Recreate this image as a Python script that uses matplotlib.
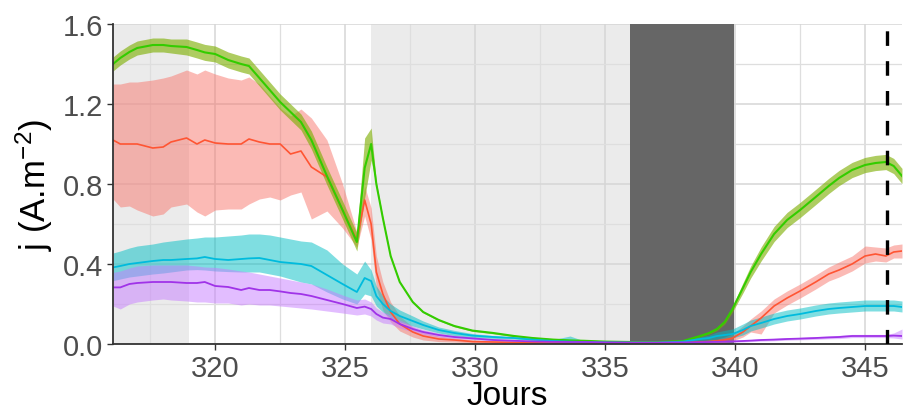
import matplotlib
matplotlib.use("Agg")
import matplotlib.pyplot as plt
import numpy as np

plt.rcParams['font.family'] = ['Liberation Sans', 'DejaVu Sans']
plt.rcParams['mathtext.default'] = 'regular'
plt.rcParams['lines.scale_dashes'] = False

days = [316.07, 316.35, 316.7, 317.0, 317.6, 318.0, 318.3, 318.9, 319.3, 319.6,
        320.0, 320.5, 321.0, 321.3, 321.7, 322.1, 322.5, 322.9, 323.3, 323.7,
        324.3, 324.9, 325.45, 325.75, 326.0, 326.2, 326.45, 326.75, 327.1, 327.6,
        328.0, 328.6, 329.2, 329.9, 330.7, 331.5, 332.2, 333.0, 333.65, 334.2,
        335.0, 336.0, 337.0, 338.0, 338.65, 339.0, 339.3, 339.6, 339.9, 340.3,
        340.6, 341.0, 341.5, 342.0, 342.5, 343.1, 343.6, 344.0, 344.5, 345.0,
        345.4, 345.8, 346.1, 346.42]

green_mean = [1.40, 1.43, 1.46, 1.48, 1.495, 1.495, 1.49, 1.485, 1.47, 1.458,
              1.45, 1.42, 1.40, 1.39, 1.33, 1.27, 1.21, 1.16, 1.11, 1.02,
              0.84, 0.67, 0.51, 0.88, 1.00, 0.80, 0.63, 0.44, 0.31, 0.21,
              0.16, 0.12, 0.09, 0.067, 0.055, 0.04, 0.03, 0.022, 0.018, 0.016,
              0.012, 0.01, 0.01, 0.015, 0.04, 0.055, 0.075, 0.11, 0.175, 0.28,
              0.36, 0.45, 0.55, 0.62, 0.67, 0.735, 0.79, 0.83, 0.87, 0.895,
              0.905, 0.91, 0.89, 0.84]
green_err = [0.035, 0.035, 0.035, 0.035, 0.035, 0.035, 0.035, 0.04, 0.04, 0.04,
             0.04, 0.04, 0.04, 0.04, 0.04, 0.04, 0.04, 0.04, 0.04, 0.045,
             0.045, 0.045, 0.045, 0.15, 0.08, 0.01, 0.005, 0.004, 0.004, 0.004,
             0.004, 0.004, 0.004, 0.004, 0.004, 0.004, 0.004, 0.004, 0.004, 0.004,
             0.004, 0.004, 0.004, 0.004, 0.005, 0.006, 0.008, 0.01, 0.015, 0.025,
             0.03, 0.035, 0.038, 0.038, 0.038, 0.038, 0.038, 0.038, 0.038, 0.038,
             0.038, 0.038, 0.038, 0.038]

red_mean = [1.02, 1.00, 1.00, 1.00, 0.98, 0.985, 1.01, 1.03, 1.00, 1.02,
            1.005, 1.00, 1.00, 1.025, 1.01, 1.00, 1.00, 0.95, 0.965, 0.885,
            0.835, 0.67, 0.52, 0.72, 0.60, 0.36, 0.25, 0.16, 0.10, 0.06,
            0.04, 0.025, 0.02, 0.012, 0.01, 0.008, 0.006, 0.005, 0.005, 0.005,
            0.005, 0.005, 0.005, 0.006, 0.01, 0.012, 0.015, 0.02, 0.03, 0.06,
            0.09, 0.13, 0.19, 0.23, 0.265, 0.31, 0.35, 0.37, 0.40, 0.44,
            0.45, 0.44, 0.46, 0.465]
red_hi = [1.30, 1.30, 1.31, 1.31, 1.32, 1.33, 1.34, 1.37, 1.35, 1.37,
          1.35, 1.33, 1.32, 1.335, 1.30, 1.24, 1.18, 1.14, 1.175, 1.13,
          1.02, 0.80, 0.56, 0.79, 0.68, 0.44, 0.31, 0.21, 0.14, 0.085,
          0.06, 0.04, 0.03, 0.02, 0.015, 0.012, 0.01, 0.008, 0.008, 0.008,
          0.008, 0.008, 0.008, 0.01, 0.015, 0.02, 0.025, 0.035, 0.05, 0.09,
          0.125, 0.165, 0.225, 0.265, 0.30, 0.345, 0.385, 0.41, 0.44, 0.49,
          0.485, 0.48, 0.495, 0.50]
red_lo = [0.725, 0.685, 0.69, 0.67, 0.64, 0.65, 0.685, 0.70, 0.66, 0.64,
          0.67, 0.675, 0.675, 0.70, 0.725, 0.735, 0.72, 0.745, 0.76, 0.625,
          0.665, 0.58, 0.485, 0.64, 0.52, 0.28, 0.17, 0.11, 0.065, 0.035,
          0.02, 0.012, 0.01, 0.006, 0.005, 0.004, 0.003, 0.003, 0.003, 0.003,
          0.003, 0.003, 0.003, 0.003, 0.005, 0.006, 0.008, 0.01, 0.015, 0.035,
          0.06, 0.05, 0.155, 0.195, 0.23, 0.275, 0.315, 0.335, 0.365, 0.405,
          0.415, 0.41, 0.43, 0.43]

cyan_mean = [0.383, 0.39, 0.40, 0.405, 0.415, 0.42, 0.42, 0.425, 0.428, 0.435,
             0.425, 0.42, 0.425, 0.428, 0.43, 0.42, 0.41, 0.405, 0.40, 0.39,
             0.345, 0.30, 0.26, 0.33, 0.315, 0.24, 0.20, 0.165, 0.14, 0.115,
             0.095, 0.07, 0.055, 0.042, 0.035, 0.03, 0.022, 0.015, 0.012, 0.01,
             0.008, 0.007, 0.007, 0.012, 0.025, 0.03, 0.04, 0.045, 0.05, 0.07,
             0.09, 0.105, 0.125, 0.14, 0.15, 0.165, 0.175, 0.18, 0.185, 0.19,
             0.19, 0.19, 0.19, 0.185]
cyan_hi = [0.455, 0.465, 0.48, 0.49, 0.50, 0.51, 0.515, 0.525, 0.53, 0.535,
           0.535, 0.54, 0.545, 0.55, 0.55, 0.545, 0.535, 0.525, 0.515, 0.51,
           0.47, 0.40, 0.35, 0.415, 0.37, 0.29, 0.24, 0.20, 0.17, 0.14,
           0.115, 0.085, 0.068, 0.052, 0.042, 0.035, 0.028, 0.022, 0.04, 0.015,
           0.012, 0.01, 0.01, 0.018, 0.035, 0.045, 0.06, 0.068, 0.075, 0.1,
           0.12, 0.135, 0.155, 0.17, 0.18, 0.195, 0.205, 0.21, 0.215, 0.22,
           0.22, 0.22, 0.22, 0.215]
cyan_lo = [0.317, 0.325, 0.335, 0.34, 0.35, 0.355, 0.36, 0.37, 0.372, 0.37,
           0.365, 0.362, 0.36, 0.36, 0.36, 0.35, 0.34, 0.325, 0.31, 0.30,
           0.26, 0.225, 0.20, 0.25, 0.24, 0.19, 0.16, 0.13, 0.11, 0.09,
           0.075, 0.055, 0.042, 0.032, 0.028, 0.025, 0.017, 0.01, 0.008, 0.006,
           0.005, 0.005, 0.005, 0.008, 0.018, 0.02, 0.025, 0.03, 0.03, 0.045,
           0.065, 0.08, 0.1, 0.115, 0.125, 0.14, 0.15, 0.155, 0.16, 0.165,
           0.165, 0.165, 0.165, 0.16]

purple_mean = [0.283, 0.283, 0.30, 0.305, 0.31, 0.31, 0.31, 0.305, 0.305, 0.31,
               0.29, 0.285, 0.27, 0.28, 0.27, 0.27, 0.263, 0.255, 0.25, 0.24,
               0.22, 0.20, 0.18, 0.187, 0.175, 0.15, 0.132, 0.125, 0.10, 0.075,
               0.06, 0.045, 0.035, 0.028, 0.02, 0.016, 0.013, 0.011, 0.01, 0.01,
               0.008, 0.007, 0.007, 0.008, 0.009, 0.01, 0.011, 0.012, 0.013, 0.015,
               0.017, 0.02, 0.022, 0.025, 0.027, 0.03, 0.033, 0.035, 0.04, 0.04,
               0.04, 0.04, 0.042, 0.04]
purple_hi = [0.358, 0.365, 0.38, 0.39, 0.395, 0.395, 0.395, 0.395, 0.39, 0.385,
             0.383, 0.375, 0.365, 0.36, 0.35, 0.34, 0.33, 0.32, 0.31, 0.30,
             0.275, 0.245, 0.22, 0.225, 0.21, 0.18, 0.16, 0.145, 0.12, 0.09,
             0.072, 0.055, 0.043, 0.034, 0.025, 0.02, 0.016, 0.014, 0.013, 0.013,
             0.011, 0.01, 0.01, 0.011, 0.012, 0.013, 0.014, 0.016, 0.017, 0.02,
             0.022, 0.026, 0.028, 0.031, 0.033, 0.037, 0.04, 0.043, 0.048, 0.048,
             0.048, 0.048, 0.055, 0.075]
purple_lo = [0.19, 0.175, 0.20, 0.21, 0.22, 0.225, 0.22, 0.215, 0.21, 0.21,
             0.205, 0.205, 0.195, 0.20, 0.195, 0.195, 0.19, 0.185, 0.18, 0.175,
             0.165, 0.155, 0.145, 0.15, 0.14, 0.12, 0.105, 0.10, 0.08, 0.06,
             0.048, 0.035, 0.027, 0.022, 0.015, 0.012, 0.01, 0.008, 0.007, 0.007,
             0.005, 0.004, 0.004, 0.005, 0.006, 0.007, 0.008, 0.008, 0.009, 0.01,
             0.012, 0.014, 0.016, 0.019, 0.021, 0.023, 0.026, 0.027, 0.032, 0.032,
             0.032, 0.032, 0.03, 0.025]

light_periods = [(316.0, 319.0), (326.0, 336.0)]
dark_period = (335.95, 339.95)
event_day = 345.83
x_ticks = [320, 325, 330, 335, 340, 345]
y_ticks = [0.0, 0.4, 0.8, 1.2, 1.6]

fig = plt.figure(figsize=(9.04, 4.14), dpi=100)
ax = fig.add_axes([113/904, 1-345/414, (902-113)/904, (345-25)/414])

for a, b in light_periods:
    ax.axvspan(a, b, color='#EBEBEB', lw=0, zorder=0.1)
ax.axvspan(*dark_period, color='#666666', lw=0, zorder=0.9)

d = np.array(days)
gm = np.array(green_mean); ge = np.array(green_err)
ax.fill_between(d, red_lo, red_hi, color='#F8766D', alpha=0.5, lw=0, zorder=1)
ax.fill_between(d, gm - ge, gm + ge, color='#7CAE00', alpha=0.62, lw=0, zorder=1.1)
ax.fill_between(d, cyan_lo, cyan_hi, color='#00BFC4', alpha=0.5, lw=0, zorder=1.2)
ax.fill_between(d, purple_lo, purple_hi, color='#C77CFF', alpha=0.5, lw=0, zorder=1.3)

ax.plot(d, red_mean, color='#FF5533', lw=1.2, zorder=2)
ax.plot(d, gm, color='#33CC00', lw=1.5, zorder=2.1)
ax.plot(d, cyan_mean, color='#00BBDD', lw=1.3, zorder=2.2)
ax.plot(d, purple_mean, color='#A033E8', lw=1.3, zorder=2.3)

ax.axvline(event_day, color='black', lw=2.4, ls=(0, (10.5, 11.0)), zorder=3)

ax.set_xlim(316.07, 346.42)
ax.set_ylim(0, 1.6)
ax.set_xticks(x_ticks)
ax.set_xticks([317.5, 322.5, 327.5, 332.5, 337.5, 342.5], minor=True)
ax.set_yticks(y_ticks)
ax.set_yticks([0.2, 0.6, 1.0, 1.4], minor=True)
ax.set_yticklabels([f"{v:.1f}" for v in y_ticks])
ax.grid(True, which='major', color='#D6D6D6', lw=1.1, zorder=0.5)
ax.grid(True, which='minor', color='#DEDEDE', lw=0.9, zorder=0.5)
ax.set_axisbelow(True)

for s in ['top', 'right']:
    ax.spines[s].set_visible(False)
for s in ['left', 'bottom']:
    ax.spines[s].set_color('#333333')
    ax.spines[s].set_linewidth(1.3)
ax.tick_params(which='major', length=4, width=1, color='#333333',
               labelsize=21, labelcolor='#4D4D4D', pad=3)
ax.tick_params(which='minor', length=0)

ax.set_xlabel('Jours', fontsize=24, color='black', labelpad=-1)
ax.set_ylabel('j (A.m$^{-2}$)', fontsize=25, color='black', labelpad=6)

fig.savefig('out.png', dpi=100)
